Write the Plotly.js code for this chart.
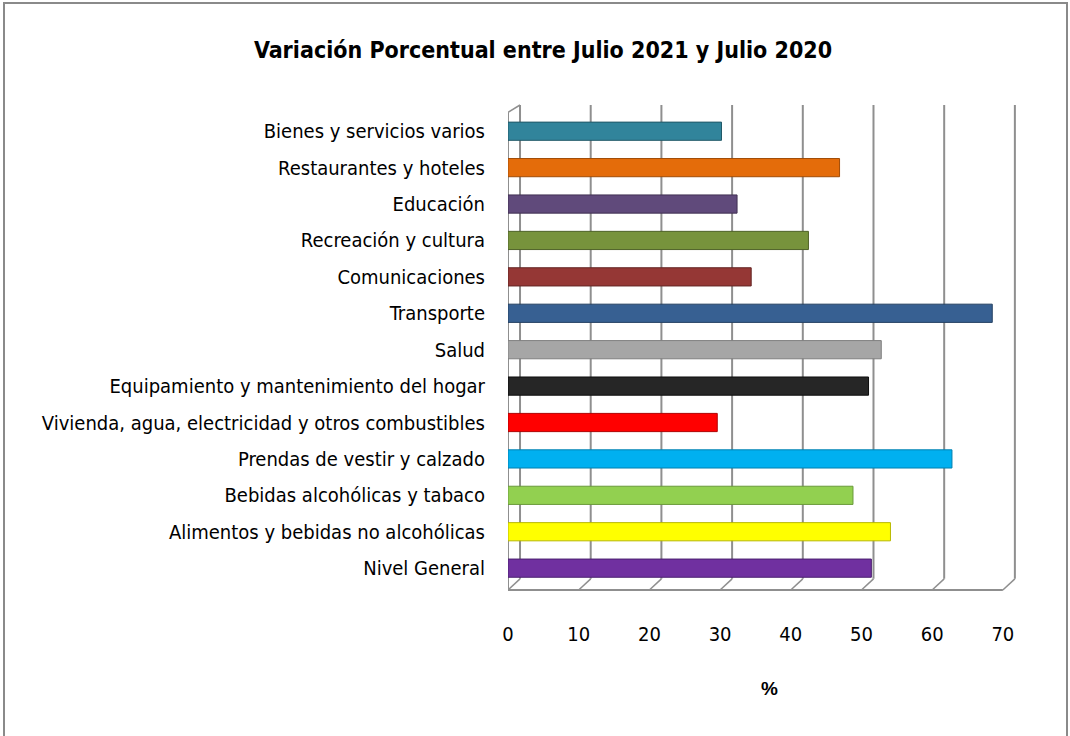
<!DOCTYPE html>
<html>
<head>
<meta charset="utf-8">
<script src="https://cdn.plot.ly/plotly-3.0.1.min.js"></script>
<style>
  html, body { margin: 0; padding: 0; background: #fff; overflow: hidden; }
  #chart { position: absolute; left: 0; top: 0; width: 1070px; height: 736px; }
  #frame { position: absolute; left: 3px; top: 2px; width: 1061px; height: 800px;
           border: 2px solid #8a8a8a; pointer-events: none; z-index: 10; }
</style>
</head>
<body>
<div id="chart"></div>
<div id="frame"></div>
<script>
// Categories listed top to bottom as in the reference
const categories = [
  "Bienes y servicios varios",
  "Restaurantes y hoteles",
  "Educación",
  "Recreación y cultura",
  "Comunicaciones",
  "Transporte",
  "Salud",
  "Equipamiento y mantenimiento del hogar",
  "Vivienda, agua, electricidad y otros combustibles",
  "Prendas de vestir y calzado",
  "Bebidas alcohólicas y tabaco",
  "Alimentos y bebidas no alcohólicas",
  "Nivel General"
];
const values = [30.2, 46.9, 32.4, 42.5, 34.4, 68.5, 52.8, 51.0, 29.6, 62.8, 48.8, 54.1, 51.4];
const barColors = [
  "#31849B", "#E46C0A", "#604A7B", "#77933C", "#953735", "#376092", "#A6A6A6",
  "#262626", "#FF0000", "#00B0F0", "#92D050", "#FFFF00", "#7030A0"
];
const edgeColors = [
  "#215968", "#A14C07", "#403152", "#4F6228", "#632523", "#244061", "#7F7F7F",
  "#0D0D0D", "#B00000", "#0080B0", "#6A9A3A", "#B8B800", "#4B2070"
];
const tickVals = [0, 10, 20, 30, 40, 50, 60, 70];

const depth = 1.7;       // back-wall offset (x units) for the pseudo-3D grid
const floorRise = 0.023; // back-floor height (paper units)
const wallTop = 0.985;

const shapes = [];
const gridCol = "#8f8f8f";
tickVals.forEach(t => {
  shapes.push({type: "line", xref: "x", yref: "paper", x0: t + depth, x1: t + depth, y0: floorRise, y1: 1,
               line: {color: gridCol, width: 2}, layer: "below"});
  shapes.push({type: "line", xref: "x", yref: "paper", x0: t, x1: t + depth, y0: 0, y1: floorRise,
               line: {color: gridCol, width: 1.5}, layer: "below"});
});
// floor front edge
shapes.push({type: "line", xref: "x", yref: "paper", x0: 0, x1: tickVals[tickVals.length-1], y0: 0, y1: 0,
             line: {color: gridCol, width: 2}, layer: "below"});
// left wall front edge and top slant
shapes.push({type: "line", xref: "x", yref: "paper", x0: 0, x1: 0, y0: 0, y1: wallTop,
             line: {color: gridCol, width: 2}, layer: "below"});
shapes.push({type: "line", xref: "x", yref: "paper", x0: 0, x1: depth, y0: wallTop, y1: 1,
             line: {color: gridCol, width: 1.5}, layer: "below"});

const trace = {
  type: "bar",
  orientation: "h",
  y: categories,
  x: values,
  width: 0.5,
  marker: {color: barColors, line: {color: edgeColors, width: 1}},
  hoverinfo: "x+y"
};

const narrow = "DejaVu Sans Condensed, DejaVu Sans, Roboto, Arial, sans-serif";
const plotLeft = 508, pxPerUnit = 7.07, xMax = 72;
const plotRight = plotLeft + pxPerUnit * xMax;

const layout = {
  width: 1070,
  height: 736,
  margin: {l: plotLeft, r: 1070 - plotRight, t: 105, b: 146},
  paper_bgcolor: "#ffffff",
  plot_bgcolor: "#ffffff",
  showlegend: false,
  title: {
    text: "<b>Variación Porcentual entre Julio 2021 y Julio 2020</b>",
    font: {family: narrow, size: 23, color: "#000"},
    x: 543 / 1070, xref: "container", xanchor: "center",
    y: 1 - 50 / 736, yref: "container", yanchor: "middle"
  },
  xaxis: {
    range: [0, xMax],
    tickvals: tickVals,
    ticktext: tickVals.map(String),
    showgrid: false,
    zeroline: false,
    showline: false,
    ticks: "",
    ticklabelstandoff: 30,
    tickfont: {family: narrow, size: 20, color: "#000"},
    fixedrange: true
  },
  yaxis: {
    type: "category",
    categoryorder: "array",
    categoryarray: categories,
    range: [12.6, -0.72],
    showgrid: false,
    zeroline: false,
    showline: false,
    ticks: "",
    ticklabelstandoff: 22,
    tickfont: {family: narrow, size: 20, color: "#000"},
    fixedrange: true
  },
  annotations: [{
    text: "<b>%</b>",
    xref: "x", yref: "paper",
    x: (770 - plotLeft) / pxPerUnit, y: -(688 - 590) / 485,
    xanchor: "center", yanchor: "middle",
    showarrow: false,
    font: {family: "Liberation Sans, Arial, sans-serif", size: 19, color: "#000"}
  }],
  shapes: shapes
};

Plotly.newPlot("chart", [trace], layout, {displayModeBar: false, staticPlot: true});
</script>
</body>
</html>
